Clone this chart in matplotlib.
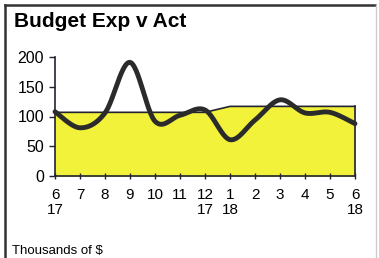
import numpy as np
import matplotlib
matplotlib.use("Agg")
import matplotlib.pyplot as plt
from matplotlib.lines import Line2D

plt.rcParams['font.family'] = ['Liberation Sans', 'DejaVu Sans']

months = ['6\n17', '7', '8', '9', '10', '11', '12\n17', '1\n18', '2', '3', '4', '5', '6\n18']
budget = [107, 107, 107, 107, 107, 107, 107, 117, 117, 117, 117, 117, 117]
actual = [108, 81, 106, 191, 92, 102, 111, 61, 94, 128, 106, 107, 88]
yticks = [0, 50, 100, 150, 200]


def smooth(xs, ys, n=30):
    # excel style smoothed line (catmull-rom bezier)
    xs = np.asarray(xs, float)
    ys = np.asarray(ys, float)
    px = np.concatenate([[xs[0]], xs, [xs[-1]]])
    py = np.concatenate([[ys[0]], ys, [ys[-1]]])
    ox, oy = [], []
    t = np.linspace(0, 1, n)
    for i in range(1, len(px) - 2):
        p0 = np.array([px[i], py[i]])
        p3 = np.array([px[i + 1], py[i + 1]])
        c1 = p0 + (np.array([px[i + 1], py[i + 1]]) - np.array([px[i - 1], py[i - 1]])) / 6
        c2 = p3 - (np.array([px[i + 2], py[i + 2]]) - np.array([px[i], py[i]])) / 6
        b = ((1 - t) ** 3)[:, None] * p0 + (3 * (1 - t) ** 2 * t)[:, None] * c1 \
            + (3 * (1 - t) * t ** 2)[:, None] * c2 + (t ** 3)[:, None] * p3
        ox.extend(b[:, 0])
        oy.extend(b[:, 1])
    return np.array(ox), np.array(oy)


fig = plt.figure(figsize=(3.79, 2.58), dpi=100)
ax = fig.add_axes([55 / 379, 1 - 176 / 258, 300 / 379, 119 / 258])

x = np.arange(len(months))
ax.fill_between(x, budget, 0, color='#f2f23a', zorder=1)
ax.plot(x, budget, color='#222233', lw=1.2, zorder=2, clip_on=False)
ax.plot([x[-1], x[-1]], [0, budget[-1]], color='#222233', lw=1.2, zorder=2, clip_on=False)

sx, sy = smooth(x, actual)
ax.plot(sx, sy, color='#2b2b2b', lw=3.5, solid_capstyle='round', zorder=3, clip_on=False)

ax.set_xlim(0, 12)
ax.set_ylim(0, 200)
ax.set_xticks(x)
ax.set_xticklabels(months, fontsize=11, linespacing=1.1)
ax.set_yticks(yticks)
ax.set_yticklabels([str(v) for v in yticks], fontsize=11.5)
ax.tick_params(axis='x', direction='inout', length=5, width=1, pad=6, color='#222233')
ax.tick_params(axis='y', direction='out', length=4, width=1, pad=4, color='#222233')
for s in ['top', 'right']:
    ax.spines[s].set_visible(False)
for s in ['left', 'bottom']:
    ax.spines[s].set_color('#222233')
    ax.spines[s].set_linewidth(1.2)
ax.spines['bottom'].set_zorder(4)

fig.text(14 / 379, 1 - 27 / 258, 'Budget Exp v Act', fontsize=15, fontweight='bold',
         ha='left', va='baseline')
fig.text(12 / 379, 1 - 254 / 258, 'Thousands of $', fontsize=9.5, ha='left', va='baseline')

# frame around the chart
fig.add_artist(Line2D([5 / 379, 375 / 379], [1 - 5 / 258, 1 - 5 / 258], color='#333333', lw=1.8))
fig.add_artist(Line2D([5 / 379, 5 / 379], [1 - 5 / 258, 0], color='#333333', lw=1.8))
fig.add_artist(Line2D([376 / 379, 376 / 379], [1 - 5 / 258, 0], color='#cccccc', lw=1))

fig.savefig('out.png', dpi=100)
